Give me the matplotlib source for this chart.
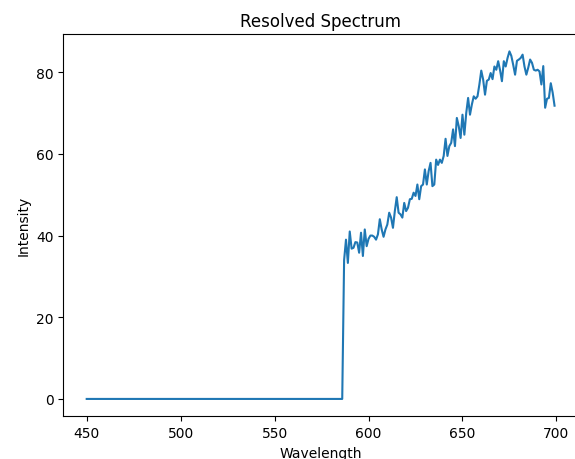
import matplotlib
matplotlib.use("Agg")
import matplotlib.pyplot as plt

# Flat (zero) part of the spectrum
wl_flat = [450, 586]
int_flat = [0.0, 0.0]

# Signal part, 1 nm sampling
wl_signal = list(range(587, 700))
int_signal = [
    34.0, 39.0, 33.3, 41.0, 36.8, 37.0, 38.4, 38.3, 35.8, 40.7,
    35.0, 41.5, 37.4, 39.2, 40.0, 40.0, 39.7, 39.0, 40.3, 44.0,
    41.5, 39.7, 41.5, 42.7, 45.6, 44.4, 41.9, 46.0, 49.4, 45.6,
    45.2, 44.4, 48.0, 46.0, 46.8, 48.9, 49.0, 50.5, 49.7, 52.5,
    48.9, 52.1, 52.5, 56.2, 52.5, 55.8, 57.8, 52.1, 52.5, 58.6,
    57.3, 58.6, 57.8, 59.5, 63.7, 59.5, 61.9, 62.7, 66.0, 61.9,
    68.8, 66.8, 63.9, 69.6, 64.7, 70.0, 73.7, 69.6, 72.1, 74.1,
    73.5, 74.1, 77.0, 80.4, 78.2, 74.5, 77.9, 78.2, 79.8, 78.3,
    81.4, 80.6, 82.7, 80.5, 77.8, 82.7, 81.4, 83.5, 85.1, 84.0,
    81.8, 79.4, 82.8, 83.1, 83.5, 84.3, 81.4, 79.4, 81.1, 83.1,
    82.3, 80.6, 80.4, 80.6, 80.2, 77.0, 81.5, 71.3, 73.5, 73.7,
    77.3, 75.0, 71.8,
]

wavelength = wl_flat + wl_signal
intensity = int_flat + int_signal

fig = plt.figure(figsize=(5.75, 4.6), dpi=100)
ax = fig.add_axes([0.1101, 0.0928, 0.895, 0.8311])
ax.plot(wavelength, intensity, color="#1f77b4")
ax.set_title("Resolved Spectrum")
ax.set_xlabel("Wavelength")
ax.set_ylabel("Intensity")
fig.savefig("out.png", dpi=100)
